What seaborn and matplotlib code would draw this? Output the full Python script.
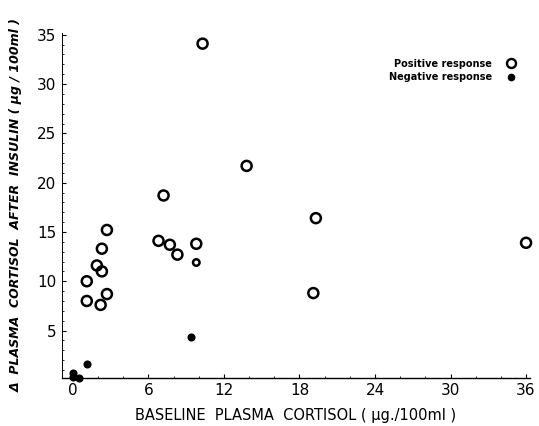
import numpy as np
import pandas as pd
import matplotlib
matplotlib.use("Agg")
import matplotlib.pyplot as plt
from matplotlib.lines import Line2D
from matplotlib.ticker import MultipleLocator
import seaborn as sns

# Positive responders (open circles)
pos_baseline = [1.1, 1.1, 1.9, 2.3, 2.3, 2.7, 2.2, 2.7, 6.8, 7.7, 8.3, 9.8, 9.8, 7.2, 10.3, 13.8, 19.3, 19.1, 36.0]
pos_delta = [10.0, 8.0, 11.6, 11.0, 13.3, 15.2, 7.6, 8.7, 14.1, 13.7, 12.7, 13.8, 11.9, 18.7, 34.1, 21.7, 16.4, 8.8, 13.9]
pos_small = [False] * 12 + [True] + [False] * 6

# Negative responders (filled dots)
neg_baseline = [9.4, 1.1, 0.0, 0.0, 0.5]
neg_delta = [4.3, 1.6, 0.7, 0.3, 0.2]

x_ticks = [0, 6, 12, 18, 24, 30, 36]
y_ticks = [5, 10, 15, 20, 25, 30, 35]

pos = pd.DataFrame({"baseline": pos_baseline, "delta": pos_delta,
                    "size": np.where(pos_small, 22, 52)})
neg = pd.DataFrame({"baseline": neg_baseline, "delta": neg_delta})

sns.set_style("ticks")
plt.rcParams["font.family"] = ["DejaVu Sans"]
plt.rcParams["text.color"] = "black"
plt.rcParams["axes.labelcolor"] = "black"
plt.rcParams["xtick.color"] = "black"
plt.rcParams["ytick.color"] = "black"
plt.rcParams["axes.edgecolor"] = "black"

fig = plt.figure(figsize=(5.39, 4.26), dpi=100)
ax = fig.add_axes([0.115, 0.113, 0.868, 0.81])

sns.scatterplot(data=pos, x="baseline", y="delta", size="size", sizes=(22, 52),
                facecolor="none", edgecolor="black", linewidth=1.8,
                legend=False, ax=ax, zorder=3, clip_on=False)
sns.scatterplot(data=neg, x="baseline", y="delta", color="black", s=34,
                edgecolor="black", linewidth=0, legend=False, ax=ax, zorder=3,
                clip_on=False)

ax.set_xlim(-0.87, 36.3)
ax.set_ylim(0.2, 35.2)
ax.set_xticks(x_ticks)
ax.set_xticklabels([str(t) for t in x_ticks])
ax.set_yticks(y_ticks)
ax.set_yticklabels([str(t) for t in y_ticks])
ax.xaxis.set_minor_locator(MultipleLocator(2))
ax.yaxis.set_minor_locator(MultipleLocator(1))
ax.tick_params(axis="both", which="major", direction="in", length=3, width=0.8,
               labelsize=11, pad=4)
ax.tick_params(axis="both", which="minor", direction="in", length=1.5, width=0.6)
ax.spines["top"].set_visible(False)
ax.spines["right"].set_visible(False)
ax.spines["left"].set_linewidth(0.7)
ax.spines["bottom"].set_linewidth(1.0)

ax.set_xlabel("BASELINE  PLASMA  CORTISOL ( \u03bcg./100ml )", fontsize=10.5, labelpad=7)
ax.set_ylabel("\u0394  PLASMA  CORTISOL  AFTER  INSULIN ( \u03bcg / 100ml )", fontsize=9,
              style="italic", fontweight="bold", labelpad=10)

handles = [
    Line2D([], [], marker="o", linestyle="none", markerfacecolor="none",
           markeredgecolor="black", markeredgewidth=1.7, markersize=6.5),
    Line2D([], [], marker="o", linestyle="none", color="black", markersize=4.5),
]
ax.legend(handles, ["Positive response", "Negative response"], loc="upper right",
          bbox_to_anchor=(1.0, 0.95), frameon=False, markerfirst=False,
          prop={"size": 7, "weight": "bold"}, handletextpad=1.0, labelspacing=0.35)

fig.savefig("out.png", dpi=100)
